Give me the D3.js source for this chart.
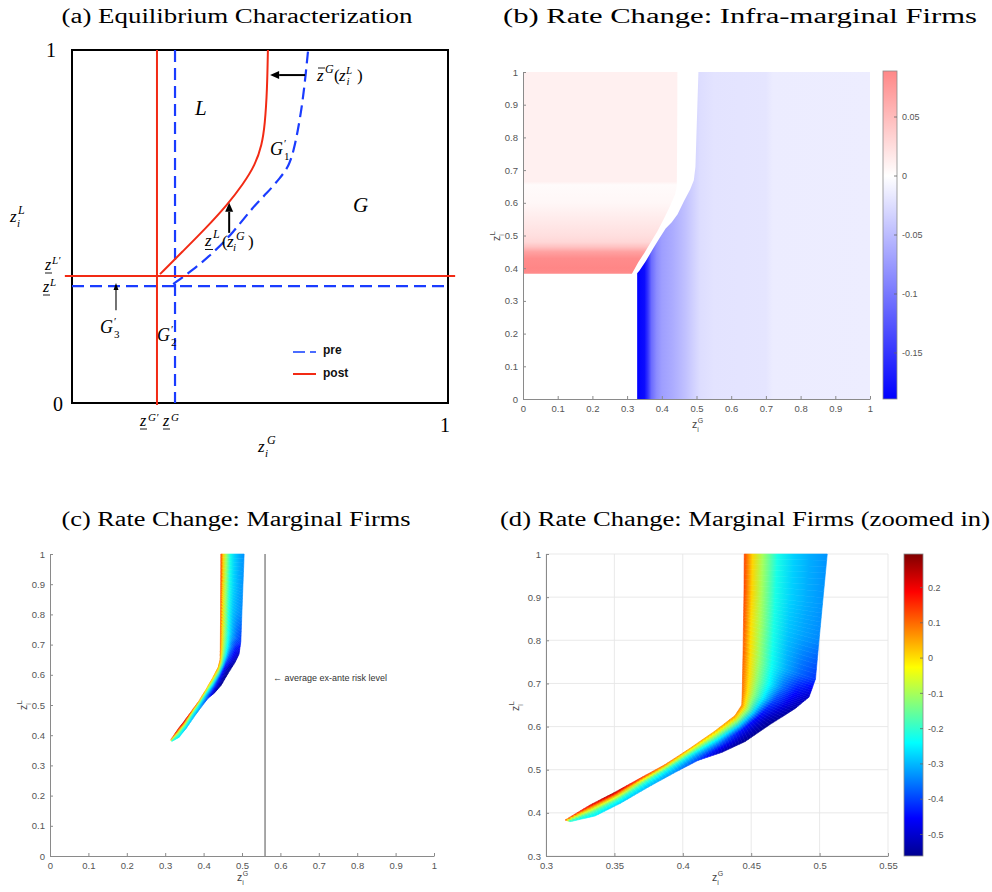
<!DOCTYPE html>
<html><head><meta charset="utf-8">
<script src="https://cdn.jsdelivr.net/npm/d3@7"></script>
<style>body{margin:0;background:#fff}</style>
</head><body>
<svg id="fig" width="992" height="892"></svg>
<script>
// ================= DATA =================
const panelTitles = ["(a) Equilibrium Characterization", "(b) Rate Change: Infra-marginal Firms",
  "(c) Rate Change: Marginal Firms", "(d) Rate Change: Marginal Firms (zoomed in)"];

// (a) schematic: thresholds and boundary curves (unit square)
const zGpre = 0.274, zGpost = 0.226, zLpre = 0.331, zLpost = 0.360;
const preBoundary = [[0.269,0.337],[0.322,0.377],[0.375,0.425],[0.428,0.482],[0.481,0.555],[0.519,0.595],
  [0.553,0.637],[0.577,0.671],[0.590,0.717],[0.601,0.773],[0.612,0.844],[0.620,0.915],[0.628,1.0]];
const postBoundary = [[0.234,0.365],[0.293,0.428],[0.354,0.493],[0.415,0.564],[0.455,0.620],[0.487,0.674],
  [0.505,0.731],[0.513,0.788],[0.519,0.887],[0.521,1.0]];
const legendLabels = ["pre", "post"];

// marginal-firm band: left (upper) edge, right (lower) edge, cross-section positions and rate changes
const bandLeft = [[0.3139,0.3834],[0.3322,0.4182],[0.3497,0.4467],[0.3687,0.4801],[0.3870,0.5119],[0.4053,0.5497],
  [0.4235,0.5898],[0.4382,0.6257],[0.4431,0.6500],[0.4435,0.6848],[0.4437,0.7196],[0.4440,0.7659],[0.4444,0.8470],
  [0.4447,0.9050],[0.4449,1.0]];
const bandRight = [[0.3175,0.3795],[0.3358,0.3927],[0.3541,0.4217],[0.3746,0.4595],[0.3928,0.4912],[0.4111,0.5216],
  [0.4287,0.5404],[0.4455,0.5652],[0.4637,0.6046],[0.4820,0.6415],[0.4923,0.6686],[0.4970,0.7103],[0.4996,0.8007],
  [0.5021,0.8841],[0.5056,1.0]];
const bandT = [0, 0.1, 0.22, 0.4, 0.6, 0.8, 1.0];
const bandValues = [
  [0.10, 0.05, 0.00, -0.08, -0.15, -0.20, -0.22],
  [0.22, 0.15, 0.06, -0.06, -0.16, -0.22, -0.25],
  [0.26, 0.18, 0.08, -0.05, -0.17, -0.24, -0.28],
  [0.15, 0.08, -0.02, -0.14, -0.22, -0.27, -0.30],
  [0.09, 0.02, -0.08, -0.19, -0.26, -0.30, -0.33],
  [0.06, -0.02, -0.11, -0.22, -0.30, -0.36, -0.40],
  [0.05, -0.02, -0.12, -0.25, -0.36, -0.46, -0.53],
  [0.07, 0.00, -0.12, -0.28, -0.44, -0.51, -0.56],
  [0.08, 0.00, -0.12, -0.28, -0.45, -0.52, -0.56],
  [0.10, 0.00, -0.12, -0.25, -0.40, -0.48, -0.54],
  [0.10, 0.00, -0.12, -0.24, -0.36, -0.45, -0.51],
  [0.11, 0.00, -0.11, -0.23, -0.31, -0.37, -0.41],
  [0.12, 0.00, -0.10, -0.22, -0.29, -0.32, -0.34],
  [0.13, 0.01, -0.10, -0.22, -0.28, -0.31, -0.33],
  [0.13, 0.01, -0.10, -0.22, -0.28, -0.31, -0.33]];

// (b) infra-marginal rate changes
const bRedY = [0.383, 0.40, 0.43, 0.45, 0.465, 0.48, 0.50, 0.55, 0.60, 0.655, 0.665, 1.0];
const bRedV = [0.085, 0.09, 0.085, 0.07, 0.045, 0.03, 0.024, 0.015, 0.006, 0.003, 0.011, 0.011];
const bBlueLeftX = 0.329;
const bBlueX = [0.329, 0.35, 0.36, 0.37, 0.385, 0.40, 0.43, 0.455, 0.47, 0.49, 0.51, 0.55, 0.70, 0.72, 1.0];
const bBlueV = [-0.189, -0.18, -0.15, -0.11, -0.085, -0.072, -0.062, -0.052, -0.045, -0.035, -0.025, -0.021, -0.019, -0.014, -0.013];
const bColorLimits = [-0.189, 0.089];
const bCbTicks = [-0.15, -0.1, -0.05, 0, 0.05];
const bCbLabels = ["-0.15", "-0.1", "-0.05", "0", "0.05"];

// ticks
const unitTicks = [0, 0.1, 0.2, 0.3, 0.4, 0.5, 0.6, 0.7, 0.8, 0.9, 1];
const unitLabels = ["0", "0.1", "0.2", "0.3", "0.4", "0.5", "0.6", "0.7", "0.8", "0.9", "1"];
const dXTicks = [0.3, 0.35, 0.4, 0.45, 0.5, 0.55];
const dXLabels = ["0.3", "0.35", "0.4", "0.45", "0.5", "0.55"];
const dYTicks = [0.3, 0.4, 0.5, 0.6, 0.7, 0.8, 0.9, 1];
const dYLabels = ["0.3", "0.4", "0.5", "0.6", "0.7", "0.8", "0.9", "1"];
const dColorLimits = [-0.561, 0.295];
const dCbTicks = [-0.5, -0.4, -0.3, -0.2, -0.1, 0, 0.1, 0.2];
const dCbLabels = ["-0.5", "-0.4", "-0.3", "-0.2", "-0.1", "0", "0.1", "0.2"];

// (c)
const avgRiskX = 0.56;
const avgRiskLabel = "\u2190 average ex-ante risk level";
const avgRiskLabelY = 0.59;

// ================= DRAWING =================
const svg = d3.select('#fig');
const defs = svg.append('defs');
const SERIF = 'Liberation Serif, Times New Roman, serif';
const SANS = 'Liberation Sans, Arial, Helvetica, sans-serif';

// one <text> made of absolutely positioned tspans: parts = [text, x, y, size, italic]
function mtext(g, parts, opt = {}) {
  const t = g.append('text').attr('font-family', opt.sans ? SANS : SERIF).attr('fill', opt.fill || '#000')
    .attr('font-weight', opt.bold ? 'bold' : 'normal');
  parts.forEach(([s, x, y, size, it]) => {
    t.append('tspan').attr('x', x).attr('y', y).attr('font-size', size)
      .attr('font-style', it ? 'italic' : 'normal').text(s);
  });
  return t;
}
function bar(g, x1, x2, y) {
  g.append('line').attr('x1', x1).attr('x2', x2).attr('y1', y).attr('y2', y).attr('stroke', '#000').attr('stroke-width', 0.9);
}
function arrow(g, x1, y1, x2, y2, w, hl, hw) {
  const a = Math.atan2(y2 - y1, x2 - x1);
  const bx = x2 - hl * Math.cos(a), by = y2 - hl * Math.sin(a);
  g.append('line').attr('x1', x1).attr('y1', y1).attr('x2', bx).attr('y2', by).attr('stroke', '#000').attr('stroke-width', w);
  const px = -Math.sin(a) * hw / 2, py = Math.cos(a) * hw / 2;
  g.append('path').attr('d', `M${x2},${y2}L${bx + px},${by + py}L${bx - px},${by - py}Z`).attr('fill', '#000');
}

// titles
const titlePos = [[237, 23, 351], [740, 23, 474], [236, 526, 349], [745, 526, 490]];
panelTitles.forEach((t, i) => {
  svg.append('text').attr('x', titlePos[i][0]).attr('y', titlePos[i][1]).attr('text-anchor', 'middle')
    .attr('font-family', SERIF).attr('font-size', 20.5)
    .attr('textLength', titlePos[i][2]).attr('lengthAdjust', 'spacingAndGlyphs').text(t);
});

// ---------- Panel (a) ----------
const gA = svg.append('g');
const xA = d3.scaleLinear([0, 1], [72, 448]);
const yA = d3.scaleLinear([0, 1], [403, 50]);
const BLUE = '#1a3cff', RED = '#f22a14';
const lineA = d3.line().x(d => xA(d[0])).y(d => yA(d[1])).curve(d3.curveBasis);
gA.append('rect').attr('x', xA(0)).attr('y', yA(1)).attr('width', xA(1) - xA(0)).attr('height', yA(0) - yA(1))
  .attr('fill', 'none').attr('stroke', '#000').attr('stroke-width', 2);
// pre (dashed)
const dash = '12,6';
gA.append('line').attr('x1', xA(zGpre)).attr('x2', xA(zGpre)).attr('y1', yA(1)).attr('y2', yA(0))
  .attr('stroke', BLUE).attr('stroke-width', 2.2).attr('stroke-dasharray', dash);
gA.append('line').attr('x1', xA(0)).attr('x2', xA(1.005)).attr('y1', yA(zLpre)).attr('y2', yA(zLpre))
  .attr('stroke', BLUE).attr('stroke-width', 2.2).attr('stroke-dasharray', dash);
gA.append('path').attr('d', lineA(preBoundary)).attr('fill', 'none').attr('stroke', BLUE).attr('stroke-width', 2.2).attr('stroke-dasharray', dash);
// post (solid)
gA.append('line').attr('x1', xA(zGpost)).attr('x2', xA(zGpost)).attr('y1', yA(1)).attr('y2', yA(-0.006))
  .attr('stroke', RED).attr('stroke-width', 2);
gA.append('line').attr('x1', xA(-0.019)).attr('x2', xA(1.019)).attr('y1', yA(zLpost)).attr('y2', yA(zLpost))
  .attr('stroke', RED).attr('stroke-width', 2);
gA.append('path').attr('d', lineA(postBoundary)).attr('fill', 'none').attr('stroke', RED).attr('stroke-width', 2);

// arrows (data coordinates)
arrow(gA, xA(0.620), yA(0.929), xA(0.527), yA(0.929), 2, 9, 8);
arrow(gA, xA(0.418), yA(0.482), xA(0.418), yA(0.567), 2, 9, 8);
arrow(gA, xA(0.117), yA(0.263), xA(0.117), yA(0.340), 1.1, 7, 5);

// math labels
mtext(gA, [['z', 317, 81, 17, 1], ['G', 325, 73, 12, 1], ['(', 334, 81, 17, 0], ['z', 339, 81, 17, 1],
  ['L', 346, 74, 11, 1], ['i', 346.5, 85, 11, 1], [')', 357, 81, 17, 0]]);
bar(gA, 318, 325, 68);
mtext(gA, [['z', 205, 246, 17, 1], ['L', 213, 238, 12, 1], ['(', 222, 247, 17, 0], ['z', 227, 247, 17, 1],
  ['G', 236, 240, 12, 1], ['i', 233, 251, 11, 1], [')', 248, 247, 17, 0]]);
bar(gA, 205, 213, 249.5);
mtext(gA, [['z', 45, 270, 16, 1], ['L\u2032', 52, 264, 11, 1]]); bar(gA, 45, 52, 273);
mtext(gA, [['z', 43, 292, 16, 1], ['L', 50, 286, 11, 1]]); bar(gA, 43, 50, 295);
mtext(gA, [['z', 140, 426, 16, 1], ['G\u2032', 148, 421, 11, 1]]); bar(gA, 140, 147, 429);
mtext(gA, [['z', 163, 426, 16, 1], ['G', 171, 421, 11, 1]]); bar(gA, 163, 170, 429);
mtext(gA, [['z', 258, 452, 17, 1], ['G', 267, 444, 12, 1], ['i', 265, 457, 11, 1]]);
mtext(gA, [['z', 10, 222, 17, 1], ['L', 18, 214, 12, 1], ['i', 17, 227, 11, 1]]);
[[270, 155, '1'], [157, 341, '2'], [100, 333, '3']].forEach(([x, y, s]) => {
  mtext(gA, [['G', x, y, 18, 1], ['\u2032', x + 14, y - 8, 11, 0], [s, x + 14, y + 5, 11, 0]]);
});
mtext(gA, [['L', 195, 115, 21, 1]]);
mtext(gA, [['G', 353, 212, 21, 1]]);
mtext(gA, [['1', 46, 57, 20, 0]]);
mtext(gA, [['0', 53, 411, 20, 0]]);
mtext(gA, [['1', 440, 432, 20, 0]]);

// legend
gA.append('line').attr('x1', 293).attr('x2', 316).attr('y1', 352).attr('y2', 352).attr('stroke', '#4a6cff').attr('stroke-width', 2).attr('stroke-dasharray', '12,5');
gA.append('line').attr('x1', 293).attr('x2', 316).attr('y1', 374).attr('y2', 374).attr('stroke', RED).attr('stroke-width', 2);
mtext(gA, [[legendLabels[0], 323, 354, 12, 0]], {sans: 1, bold: 1, fill: '#111'});
mtext(gA, [[legendLabels[1], 323, 377, 12, 0]], {sans: 1, bold: 1, fill: '#111'});

// ---------- helpers for MATLAB-like panels ----------
function mAxes(g, xs, ys, xt, xl, yt, yl) {
  const ax = g.append('g').attr('transform', `translate(0,${ys.range()[0]})`)
    .call(d3.axisBottom(xs).tickValues(xt).tickFormat((d, i) => xl[i]).tickSizeInner(-3).tickSizeOuter(0).tickPadding(6));
  const ay = g.append('g').attr('transform', `translate(${xs.range()[0]},0)`)
    .call(d3.axisLeft(ys).tickValues(yt).tickFormat((d, i) => yl[i]).tickSizeInner(-3).tickSizeOuter(0).tickPadding(5));
  [ax, ay].forEach(a => {
    a.select('.domain').attr('stroke', '#8a8a8a').attr('stroke-width', 1);
    a.selectAll('.tick line').attr('stroke', '#8a8a8a');
    a.selectAll('.tick text').attr('fill', '#555').attr('font-family', SANS).attr('font-size', 9.5);
  });
}
function zLabel(g, sup, cx, cy, rot) {
  const t = g.append('g').attr('transform', `translate(${cx},${cy})` + (rot ? ' rotate(-90)' : ''));
  mtext(t, [['z', -5, 3, 10.5, 0], [sup, 0.8, -2.5, 7, 0], ['i', 0.3, 7, 7, 0]], {sans: 1, fill: '#444'});
}
function colorbar(g, x, w, cs, color, stops, ticks, labels, id) {
  const [y0, y1] = cs.range();
  const gr = defs.append('linearGradient').attr('id', id).attr('gradientUnits', 'userSpaceOnUse')
    .attr('x1', 0).attr('x2', 0).attr('y1', y0).attr('y2', y1);
  const dom = cs.domain();
  stops.forEach(v => gr.append('stop').attr('offset', (v - dom[0]) / (dom[1] - dom[0])).attr('stop-color', color(v)));
  g.append('rect').attr('x', x).attr('y', y1).attr('width', w).attr('height', y0 - y1)
    .attr('fill', `url(#${id})`).attr('stroke', '#8a8a8a').attr('stroke-width', 0.8);
  ticks.forEach((v, i) => {
    g.append('line').attr('x1', x + w - 3).attr('x2', x + w).attr('y1', cs(v)).attr('y2', cs(v)).attr('stroke', '#666').attr('stroke-width', 0.8);
    g.append('text').attr('x', x + w + 5).attr('y', cs(v) + 3.2).attr('font-family', SANS).attr('font-size', 9)
      .attr('fill', '#555').text(labels[i]);
  });
}

// jet colormap for (c)/(d)
const jetStops = ['#000090', '#0000ff', '#0080ff', '#00ffff', '#80ff80', '#ffff00', '#ff8000', '#ff0000', '#800000'];
const jetDomain = jetStops.map((_, i) => dColorLimits[0] + i / 8 * (dColorLimits[1] - dColorLimits[0]));
const jet = d3.scaleLinear().domain(jetDomain).range(jetStops).clamp(true);

// band rendered with smooth shading between the measured cross-sections
let gid = 0;
const SUB = 8;
function drawBand(g, xs, ys) {
  const P = p => [xs(p[0]), ys(p[1])];
  const lerp = (a, b, s) => a + (b - a) * s;
  const lerpP = (a, b, s) => [lerp(a[0], b[0], s), lerp(a[1], b[1], s)];
  for (let i = 0; i < bandLeft.length - 1; i++) {
    const L0 = P(bandLeft[i]), L1 = P(bandLeft[i + 1]), R0 = P(bandRight[i]), R1 = P(bandRight[i + 1]);
    for (let k = 0; k < SUB; k++) {
      const s0 = k / SUB, s1 = (k + 1) / SUB, sm = (s0 + s1) / 2;
      const a0 = lerpP(L0, L1, s0), a1 = lerpP(L0, L1, s1), b0 = lerpP(R0, R1, s0), b1 = lerpP(R0, R1, s1);
      const am = lerpP(L0, L1, sm), bm = lerpP(R0, R1, sm);
      const id = 'band' + (gid++);
      const gr = defs.append('linearGradient').attr('id', id).attr('gradientUnits', 'userSpaceOnUse')
        .attr('x1', am[0]).attr('y1', am[1]).attr('x2', bm[0]).attr('y2', bm[1]);
      bandT.forEach((t, j) => gr.append('stop').attr('offset', t)
        .attr('stop-color', jet(lerp(bandValues[i][j], bandValues[i + 1][j], sm))));
      g.append('path').attr('d', 'M' + [a0, a1, b1, b0].map(p => p.join(',')).join('L') + 'Z')
        .attr('fill', `url(#${id})`).attr('stroke', `url(#${id})`).attr('stroke-width', 0.6);
    }
  }
}

// ---------- Panel (b) ----------
const gB = svg.append('g');
const xB = d3.scaleLinear([0, 1], [523, 870]);
const yB = d3.scaleLinear([0, 1], [399, 72]);
const bColor = d3.scaleLinear([-0.189, 0, 0.189], ['#0000ff', '#ffffff', '#ff0000']);
{
  const gr = defs.append('linearGradient').attr('id', 'bRed').attr('gradientUnits', 'userSpaceOnUse')
    .attr('x1', 0).attr('x2', 0).attr('y1', yB(bRedY[0])).attr('y2', yB(bRedY[bRedY.length - 1]));
  bRedY.forEach((y, i) => gr.append('stop').attr('offset', (y - bRedY[0]) / (bRedY[bRedY.length - 1] - bRedY[0])).attr('stop-color', bColor(bRedV[i])));
  const gb = defs.append('linearGradient').attr('id', 'bBlue').attr('gradientUnits', 'userSpaceOnUse')
    .attr('y1', 0).attr('y2', 0).attr('x1', xB(bBlueX[0])).attr('x2', xB(bBlueX[bBlueX.length - 1]));
  bBlueX.forEach((x, i) => gb.append('stop').attr('offset', (x - bBlueX[0]) / (bBlueX[bBlueX.length - 1] - bBlueX[0])).attr('stop-color', bColor(bBlueV[i])));
  const line = d3.line().x(d => xB(d[0])).y(d => yB(d[1]));
  const redPoly = [[0, 1]].concat(bandLeft.slice().reverse(), [[0, bRedY[0]]]);
  gB.append('path').attr('d', line(redPoly) + 'Z').attr('fill', 'url(#bRed)');
  const bluePoly = [[1, 0], [bBlueLeftX, 0], [bBlueLeftX, bandRight[0][1] + 0.005]].concat(bandRight.slice(1), [[1, 1]]);
  gB.append('path').attr('d', line(bluePoly) + 'Z').attr('fill', 'url(#bBlue)');
}
mAxes(gB, xB, yB, unitTicks, unitLabels, unitTicks, unitLabels);
zLabel(gB, 'G', 697, 425, false);
zLabel(gB, 'L', 497, 236, true);
colorbar(gB, 883, 14, d3.scaleLinear(bColorLimits, [399, 71]), bColor, [bColorLimits[0], 0, bColorLimits[1]], bCbTicks, bCbLabels, 'cbB');

// ---------- Panel (c) ----------
const gC = svg.append('g');
const xC = d3.scaleLinear([0, 1], [50, 434]);
const yC = d3.scaleLinear([0, 1], [856, 554]);
drawBand(gC, xC, yC);
gC.append('line').attr('x1', xC(avgRiskX)).attr('x2', xC(avgRiskX)).attr('y1', yC(1)).attr('y2', yC(0))
  .attr('stroke', '#7a7a7a').attr('stroke-width', 1.3);
gC.append('text').attr('x', xC(avgRiskX) + 8).attr('y', yC(avgRiskLabelY) + 3).attr('font-family', SANS)
  .attr('font-size', 9).attr('fill', '#333').text(avgRiskLabel);
mAxes(gC, xC, yC, unitTicks, unitLabels, unitTicks, unitLabels);
zLabel(gC, 'G', 242, 878, false);
zLabel(gC, 'L', 24, 705, true);

// ---------- Panel (d) ----------
const gD = svg.append('g');
const xD = d3.scaleLinear([0.3, 0.55], [546, 888]);
const yD = d3.scaleLinear([0.3, 1], [856, 554]);
dXTicks.forEach(v => gD.append('line').attr('x1', xD(v)).attr('x2', xD(v)).attr('y1', yD(0.3)).attr('y2', yD(1)).attr('stroke', '#e6e6e6').attr('stroke-width', 0.9));
dYTicks.forEach(v => gD.append('line').attr('y1', yD(v)).attr('y2', yD(v)).attr('x1', xD(0.3)).attr('x2', xD(0.55)).attr('stroke', '#e6e6e6').attr('stroke-width', 0.9));
drawBand(gD, xD, yD);
mAxes(gD, xD, yD, dXTicks, dXLabels, dYTicks, dYLabels);
zLabel(gD, 'G', 717, 878, false);
zLabel(gD, 'L', 516, 706, true);
const cbD = d3.scaleLinear(dColorLimits, [856, 554]);
colorbar(gD, 904, 19, cbD, jet, jetDomain, dCbTicks, dCbLabels, 'cbD');
</script>
</body></html>
